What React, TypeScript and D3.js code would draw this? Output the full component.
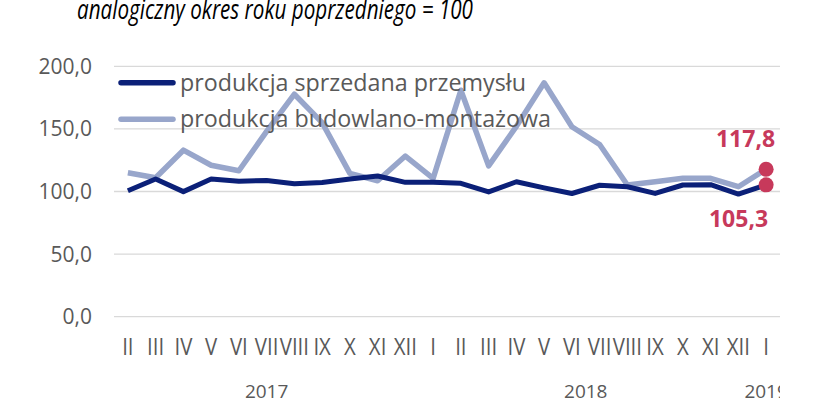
import React from "react";
import * as d3 from "d3";

const months = ["II","III","IV","V","VI","VII","VIII","IX","X","XI","XII","I","II","III","IV","V","VI","VII","VIII","IX","X","XI","XII","I"];
const yearGroups = [
  { label: "2017", start: 0, end: 10 },
  { label: "2018", start: 11, end: 22 },
  { label: "2019", start: 23, end: 23 },
];
const przemysl = [100.6,110,99.9,110,108.2,108.8,106.2,107.2,110,112.4,107.3,107.3,106.5,99.7,107.8,102.9,98.4,105,103.8,98.5,105.2,105.4,98,105.3];
const budowlanka = [115,111,133,121,116.6,148,177.7,155,114.5,108.6,128.3,110.5,180.9,120.5,152,186.8,151.7,137.5,105.2,107.8,110.5,110.5,103.8,117.8];
const seriesNames = ["produkcja sprzedana przemysłu", "produkcja budowlano-montażowa"];
const yTicks = [0, 50, 100, 150, 200];
const title = "analogiczny okres roku poprzedniego = 100";

const W = 823, H = 402;
const DARK = "#0B2078";
const LIGHT = "#98A6CB";
const RED = "#C7395B";
const GRAY = "#595959";
const FONT = "'Open Sans', 'Noto Sans', sans-serif";

export default function App() {
  const xb = d3.scaleBand<number>().domain(months.map((_, i) => i)).range([114, 780]).padding(0);
  const cx = (i: number) => (xb(i) as number) + xb.bandwidth() / 2;
  const y = d3.scaleLinear().domain([0, 200]).range([316.7, 66.3]);
  const line = d3.line<number>().x((_, i) => cx(i)).y((d) => y(d)).curve(d3.curveLinear);
  const fmt = (v: number) => d3.format(".1f")(v).replace(".", ",");
  const last = months.length - 1;

  return (
    <div style={{ position: "fixed", left: 0, top: 0, width: W, height: H, background: "#fff" }}>
      <svg width={W} height={H} style={{ display: "block" }} fontFamily={FONT}>
        <defs>
          <clipPath id="plotclip">
            <rect x={0} y={0} width={780} height={H} />
          </clipPath>
        </defs>
        <text x={77} y={19} fontSize={28} fontStyle="italic" fill="#000" textLength={396} lengthAdjust="spacingAndGlyphs">
          {title}
        </text>
        {yTicks.map((t) => (
          <g key={t}>
            <line x1={114} x2={780} y1={y(t)} y2={y(t)} stroke="#D9D9D9" strokeWidth={1.3} />
            <text x={92} y={y(t)} dy="0.36em" textAnchor="end" fontSize={21} fill={GRAY}>
              {fmt(t)}
            </text>
          </g>
        ))}
        {months.map((m, i) => (
          <text key={i} x={cx(i)} y={355} textAnchor="middle" fontSize={24} fill={GRAY} transform={`translate(${cx(i)},0) scale(0.85,1) translate(${-cx(i)},0)`}>
            {m}
          </text>
        ))}
        <g clipPath="url(#plotclip)">
          {yearGroups.map((g) => (
            <text key={g.label} x={(cx(g.start) + cx(g.end)) / 2} y={398} textAnchor="middle" fontSize={19} fill={GRAY}>
              {g.label}
            </text>
          ))}
        </g>
        <path d={line(budowlanka) || ""} fill="none" stroke={LIGHT} strokeWidth={5.5} strokeLinejoin="round" />
        <path d={line(przemysl) || ""} fill="none" stroke={DARK} strokeWidth={5} strokeLinejoin="round" />
        {[przemysl, budowlanka].map((s, k) => (
          <circle key={k} cx={cx(last)} cy={y(s[last])} r={7.5} fill={RED} />
        ))}
        <text x={cx(last) + 9} y={147} textAnchor="end" fontSize={23} fontWeight="bold" fill={RED}>
          {fmt(budowlanka[last])}
        </text>
        <text x={cx(last) + 2} y={227} textAnchor="end" fontSize={23} fontWeight="bold" fill={RED}>
          {fmt(przemysl[last])}
        </text>
        {seriesNames.map((n, k) => (
          <g key={n}>
            <line x1={121} x2={173} y1={k === 0 ? 82.7 : 119.3} y2={k === 0 ? 82.7 : 119.3} stroke={k === 0 ? DARK : LIGHT} strokeWidth={5.5} strokeLinecap="round" />
            <text x={180} y={k === 0 ? 90.7 : 127} fontSize={23} fill={GRAY} textLength={k === 0 ? 346 : 371} lengthAdjust="spacingAndGlyphs">
              {n}
            </text>
          </g>
        ))}
      </svg>
    </div>
  );
}
